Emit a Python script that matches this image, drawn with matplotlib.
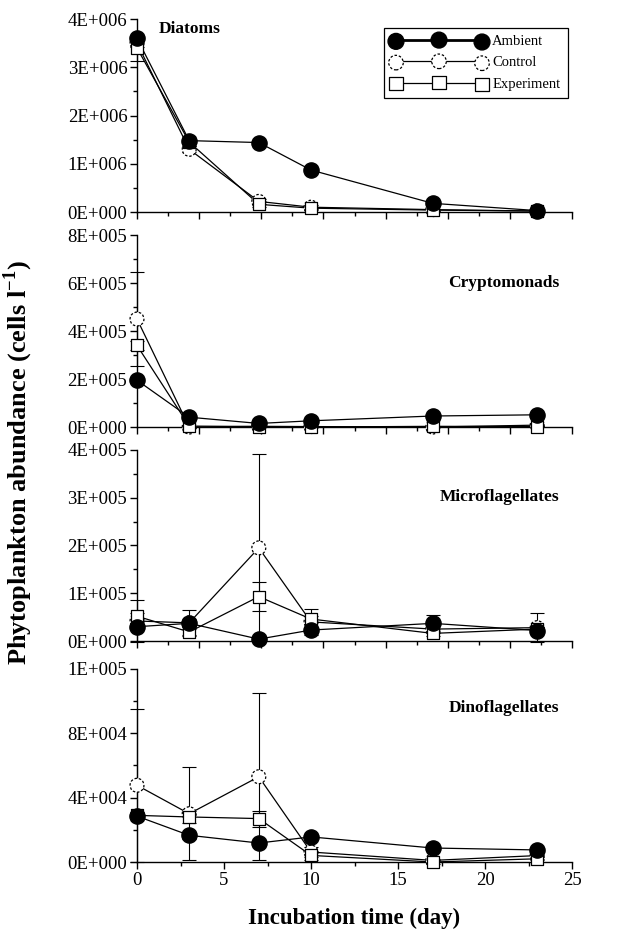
import numpy as np
import matplotlib
matplotlib.use('Agg')
import matplotlib.pyplot as plt
from matplotlib.lines import Line2D
from matplotlib.ticker import FuncFormatter, MultipleLocator, FixedLocator

plt.rcParams['font.family'] = ['Liberation Serif', 'DejaVu Serif']
plt.rcParams['mathtext.fontset'] = 'custom'
plt.rcParams['mathtext.rm'] = 'Liberation Serif'
plt.rcParams['mathtext.bf'] = 'Liberation Serif:bold'

DAYS = [0, 3, 7, 10, 17, 23]
SERIES = ['Ambient', 'Control', 'Experiment']

# Diatoms
diatoms_ambient = [3.60e6, 1.48e6, 1.44e6, 0.87e6, 0.18e6, 0.03e6]
diatoms_control = [3.50e6, 1.30e6, 0.22e6, 0.10e6, 0.05e6, 0.02e6]
diatoms_experiment = [3.40e6, 1.45e6, 0.16e6, 0.08e6, 0.04e6, 0.02e6]
diatoms_ambient_err = [0.05e6, 0.05e6, 0.03e6, 0.03e6, 0.02e6, 0.01e6]
diatoms_control_err = [0.08e6, 0.06e6, 0.06e6, 0.04e6, 0.02e6, 0.01e6]
diatoms_experiment_err = [0.27e6, 0.08e6, 0.05e6, 0.03e6, 0.02e6, 0.01e6]

# Cryptomonads
crypto_ambient = [1.95e5, 4.1e4, 1.5e4, 2.6e4, 4.6e4, 5.1e4]
crypto_control = [4.50e5, 0, 3e3, 2e3, 0, 8e3]
crypto_experiment = [3.40e5, 4e3, 2e3, 0, 3e3, 2e3]
crypto_ambient_err = [1e4, 8e3, 5e3, 5e3, 6e3, 6e3]
crypto_control_err = [1.97e5, 3e3, 2e3, 2e3, 1e3, 3e3]
crypto_experiment_err = [2e4, 2e3, 1e3, 1e3, 1e3, 1e3]

# Microflagellates
micro_ambient = [3.0e4, 3.7e4, 4e3, 2.3e4, 3.7e4, 2.2e4]
micro_control = [4.2e4, 3.8e4, 1.95e5, 4.0e4, 2.5e4, 2.8e4]
micro_experiment = [5.2e4, 1.9e4, 9.3e4, 4.6e4, 1.6e4, 2.5e4]
micro_ambient_err = [5e3, 2.7e4, 3e3, 5e3, 1.8e4, 4e3]
micro_control_err = [4.3e4, 8e3, 1.97e5, 2.8e4, 8e3, 3.0e4]
micro_experiment_err = [6e3, 6e3, 3.0e4, 6e3, 5e3, 4e3]

# Dinoflagellates
dino_ambient = [2.85e4, 1.66e4, 1.18e4, 1.56e4, 8.7e3, 7.5e3]
dino_control = [4.77e4, 3.0e4, 5.3e4, 6.2e3, 1.0e3, 4.0e3]
dino_experiment = [2.9e4, 2.8e4, 2.7e4, 4.1e3, 0, 2.0e3]
dino_ambient_err = [2e3, 2e3, 2e3, 2e3, 1.5e3, 1.5e3]
dino_control_err = [4.77e4, 2.9e4, 5.2e4, 3e3, 1e3, 2e3]
dino_experiment_err = [2e3, 4e3, 5e3, 3e3, 1e3, 1e3]


def sci_label(v, pos=None):
    """Excel-like 0E+000 tick labels."""
    if v <= 0:
        return '0E+000'
    exp = int(np.floor(np.log10(v)))
    mant = int(round(v / 10 ** exp))
    if mant == 10:
        mant, exp = 1, exp + 1
    return f'{mant}E+{exp:03d}'


def draw_panel(ax, values, errors, ymax, ystep, title, title_pos, last=False):
    """
    Draws the three treatments for one phytoplankton group.
    """
    amb, ctl, exp = values
    amb_e, ctl_e, exp_e = errors
    line_kw = dict(color='black', lw=0.9, elinewidth=0.8, capsize=5,
                   capthick=0.8, clip_on=False)

    ax.errorbar(DAYS, ctl, yerr=ctl_e, zorder=2, **line_kw)
    ax.errorbar(DAYS, exp, yerr=exp_e, zorder=2, **line_kw)
    ax.errorbar(DAYS, amb, yerr=amb_e, zorder=2, **line_kw)

    ax.scatter(DAYS, ctl, s=100, marker='o', facecolors='white',
               edgecolors='black', linewidths=0.9, linestyles=(0, (2, 1.5)),
               zorder=3, clip_on=False)
    ax.scatter(DAYS, exp, s=80, marker='s', facecolors='white',
               edgecolors='black', linewidths=0.9, zorder=4, clip_on=False)
    ax.scatter(DAYS, amb, s=120, marker='o', color='black', zorder=5,
               clip_on=False)

    ax.set_xlim(0, 25)
    ax.set_ylim(0, ymax)
    ax.yaxis.set_major_locator(MultipleLocator(ystep))
    ax.yaxis.set_minor_locator(MultipleLocator(ystep / 2))
    ax.yaxis.set_major_formatter(FuncFormatter(sci_label))

    if last:
        ax.xaxis.set_major_locator(MultipleLocator(5))
        ax.xaxis.set_minor_locator(MultipleLocator(2.5))
    else:
        grid = np.linspace(0, 25, 15)
        ax.xaxis.set_major_locator(FixedLocator(grid[::2]))
        ax.xaxis.set_minor_locator(FixedLocator(grid[1::2]))
        ax.set_xticklabels([])

    for side in ('top', 'right'):
        ax.spines[side].set_visible(False)
    for side in ('left', 'bottom'):
        ax.spines[side].set_linewidth(1.0)
    ax.tick_params(which='major', direction='out', length=5, width=1,
                   labelsize=13.5, pad=2)
    ax.tick_params(which='minor', direction='out', length=3, width=1)

    x, y, ha = title_pos
    ax.text(x, y, title, transform=ax.transAxes, ha=ha, va='center',
            fontsize=12.5, fontweight='bold')


fig = plt.figure(figsize=(6.38, 9.32), dpi=100)
left, width = 137 / 638, 435 / 638
panels = [
    (0.7725, 0.2071),
    (0.5418, 0.2060),
    (0.3122, 0.2050),
    (0.0751, 0.2071),
]
axes = [fig.add_axes([left, b, width, h]) for b, h in panels]

draw_panel(axes[0],
           (diatoms_ambient, diatoms_control, diatoms_experiment),
           (diatoms_ambient_err, diatoms_control_err, diatoms_experiment_err),
           4e6, 1e6, 'Diatoms', (0.05, 0.95, 'left'))
draw_panel(axes[1],
           (crypto_ambient, crypto_control, crypto_experiment),
           (crypto_ambient_err, crypto_control_err, crypto_experiment_err),
           8e5, 2e5, 'Cryptomonads', (0.97, 0.75, 'right'))
draw_panel(axes[2],
           (micro_ambient, micro_control, micro_experiment),
           (micro_ambient_err, micro_control_err, micro_experiment_err),
           4e5, 1e5, 'Microflagellates', (0.97, 0.755, 'right'))
draw_panel(axes[3],
           (dino_ambient, dino_control, dino_experiment),
           (dino_ambient_err, dino_control_err, dino_experiment_err),
           1.2e5, 4e4, 'Dinoflagellates', (0.97, 0.80, 'right'), last=True)

# legend with three markers per entry, like the spreadsheet original
handles = [
    (Line2D([], [], color='black', lw=2),
     axes[0].scatter([], [], s=130, marker='o', color='black')),
    (Line2D([], [], color='black', lw=0.9),
     axes[0].scatter([], [], s=110, marker='o', facecolors='white',
                     edgecolors='black', linewidths=0.9,
                     linestyles=(0, (2, 1.5)))),
    (Line2D([], [], color='black', lw=0.9),
     axes[0].scatter([], [], s=90, marker='s', facecolors='white',
                     edgecolors='black', linewidths=0.9)),
]
leg = axes[0].legend(handles, SERIES, loc='upper right',
                     bbox_to_anchor=(0.99, 0.955), borderaxespad=0,
                     scatterpoints=3, handlelength=6.5, fontsize=10.5,
                     fancybox=False, edgecolor='black', framealpha=1,
                     borderpad=0.5, labelspacing=0.55, handletextpad=0.4)
leg.get_frame().set_linewidth(0.9)

axes[3].set_xlabel('Incubation time (day)', fontsize=16.5, fontweight='bold',
                   labelpad=14)
fig.text(0.028, 0.504, 'Phytoplankton abundance (cells l$^{\\mathbf{-1}}$)',
         rotation=90, ha='center', va='center', fontsize=19,
         fontweight='bold')

fig.savefig('out.png', dpi=100)
